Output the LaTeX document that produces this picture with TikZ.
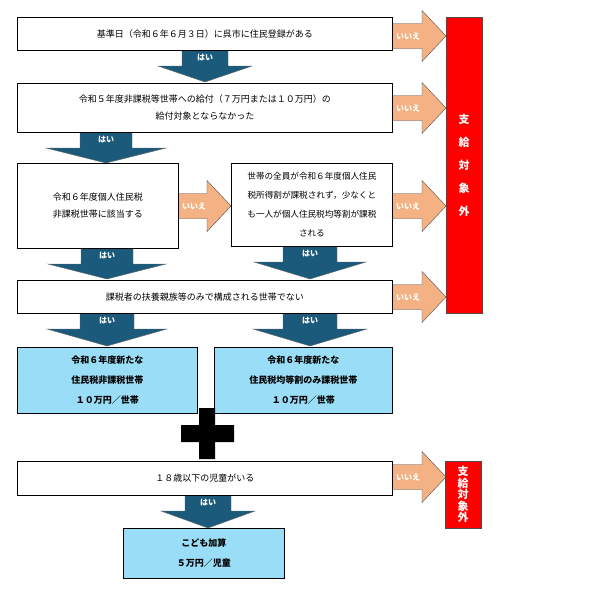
\documentclass[tikz,border=0pt]{standalone}
\usepackage{fontspec}
\setmainfont{Noto Sans CJK JP}
\definecolor{haiblue}{HTML}{1B5A7A}
\definecolor{peach}{HTML}{F4B183}
\definecolor{lightbox}{HTML}{99DDF6}
\tikzset{
  box/.style={draw=black,thick,fill=white,anchor=north west,inner sep=0pt,align=center,
    font=\fontsize{9}{17}\selectfont},
  result/.style={box,fill=lightbox,font=\fontsize{9}{20}\selectfont\bfseries},
  outside/.style={draw=black!70,fill=red,anchor=north west,inner sep=0pt,align=center,
    text=white,font=\fontsize{11}{23}\selectfont\bfseries},
  yes/.style={draw=black!60,fill=haiblue},
  no/.style={draw=black!70,fill=peach},
  tag/.style={text=white,font=\fontsize{8}{8}\selectfont\bfseries}
}
% down arrow: centre x, top y, shaft half, head half, tip y
\newcommand{\hai}[6]{
  \draw[yes] (#2-#4,#3) -- (#2+#4,#3) -- (#2+#4,#3+16) -- (#2+#5,#3+16)
    -- (#2,#6) -- (#2-#5,#3+16) -- (#2-#4,#3+16) -- cycle;
  \node[tag] (#1) at (#2,#3+8) {はい};
}
% right arrow: start x, centre y, tip x
\newcommand{\iie}[4]{
  \draw[no] (#2,#3-12.5) -- (#4-24,#3-12.5) -- (#4-24,#3-25.5) -- (#4,#3)
    -- (#4-24,#3+25.5) -- (#4-24,#3+12.5) -- (#2,#3+12.5) -- cycle;
  \node[tag] (#1) at (#2+16,#3) {いいえ};
}
\begin{document}
\begin{tikzpicture}[x=1pt,y=-1pt]
\useasboundingbox (0,0) rectangle (600,595);

% arrows first
\hai{h1}{205}{50}{23}{47}{82}
\hai{h2}{106}{132}{26}{60}{163}
\hai{h3}{107}{248}{26}{59}{279}
\hai{h4}{310}{246}{27}{56}{279}
\hai{h5}{107}{313}{27}{60}{346}
\hai{h6}{310}{313}{27}{57}{346}
\hai{h7}{208}{495}{23}{47}{528}
\iie{n1}{392}{36}{446}
\iie{n2}{392}{108}{446}
\iie{n3}{178}{206}{231}
\iie{n4}{392}{206}{446}
\iie{n5}{392}{297}{446}
\iie{n6}{392}{477}{446}

% boxes
\node[box,minimum width=375,minimum height=33] (base) at (17,17) {基準日（令和６年６月３日）に呉市に住民登録がある};
\node[box,minimum width=375,minimum height=49] (prev) at (17,83) {令和５年度非課税等世帯への給付（７万円または１０万円）の\\給付対象とならなかった};
\node[box,minimum width=161,minimum height=85] (nontax) at (17,163) {令和６年度個人住民税\\非課税世帯に該当する};
\node[box,minimum width=161,minimum height=83,font=\fontsize{8.6}{19}\selectfont] (flat) at (231,163) {世帯の全員が令和６年度個人住民\\税所得割が課税されず，少なくと\\も一人が個人住民税均等割が課税\\される};
\node[box,minimum width=375,minimum height=33] (dep) at (17,280) {課税者の扶養親族等のみで構成される世帯でない};
\node[result,minimum width=180,minimum height=66] (resA) at (17,347) {令和６年度新たな\\住民税非課税世帯\\１０万円／世帯};
\node[result,minimum width=178,minimum height=66] (resB) at (214,347) {令和６年度新たな\\住民税均等割のみ課税世帯\\１０万円／世帯};
\node[box,minimum width=375,minimum height=34] (child) at (17,461) {１８歳以下の児童がいる};
\node[result,minimum width=161,minimum height=50] (kids) at (123,528) {こども加算\\５万円／児童};
\node[outside,minimum width=36,minimum height=296] (outA) at (446,17) {支\\給\\対\\象\\外};
\node[outside,minimum width=36,minimum height=67,font=\fontsize{11}{11.5}\selectfont\bfseries] (outB) at (445,461) {支\\給\\対\\象\\外};

% plus sign
\fill[black] (199,408) rectangle (215,459) (181,425) rectangle (234,442);
\end{tikzpicture}
\end{document}
